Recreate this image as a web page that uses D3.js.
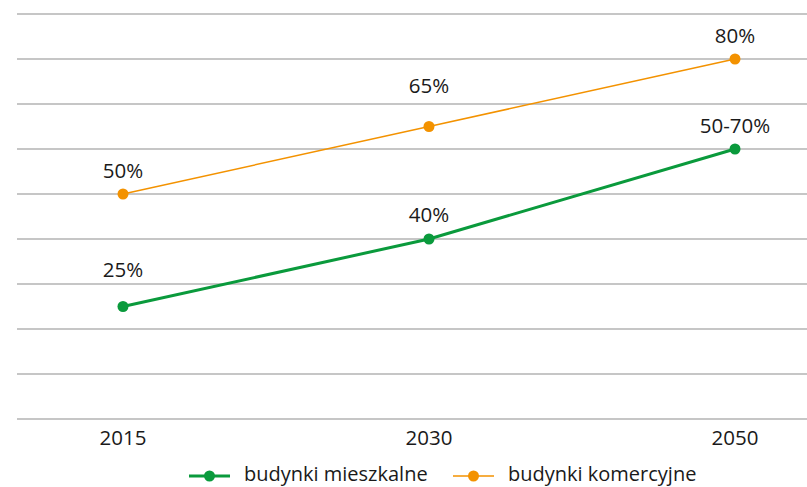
<!DOCTYPE html>
<html><head><meta charset="utf-8">
<script src="https://cdn.jsdelivr.net/npm/d3@7"></script>
<style>body{margin:0;background:#fff}svg{display:block}text{font-family:"Open Sans","Noto Sans",sans-serif;fill:#1a1a1a}</style>
</head><body><svg id="c" width="807" height="487"></svg>
<script>
const years = ["2015", "2030", "2050"];
const seriesNames = ["budynki mieszkalne", "budynki komercyjne"];
const residential = [25, 40, 60];
const commercial = [50, 65, 80];
const residentialLabels = ["25%", "40%", "50-70%"];
const commercialLabels = ["50%", "65%", "80%"];
const yTicks = [0,10,20,30,40,50,60,70,80,90];

const svg = d3.select("#c");
const x = d3.scalePoint().domain(years).range([123, 735]);
const y = d3.scaleLinear().domain([0, 90]).range([419, 14]);

svg.append("g").selectAll("line").data(yTicks).join("line")
  .attr("x1", 17).attr("x2", 807)
  .attr("y1", d => y(d)).attr("y2", d => y(d))
  .attr("stroke", "#b3b3b3").attr("stroke-width", 1.6);

svg.append("g").selectAll("text").data(years).join("text")
  .attr("x", d => x(d)).attr("y", 445).attr("text-anchor", "middle")
  .attr("font-size", 20.5).text(d => d);

const series = [
  {name: seriesNames[0], vals: residential, labels: residentialLabels, color: "#0a9a3c", w: 3, dy: [-30, -17, -16]},
  {name: seriesNames[1], vals: commercial, labels: commercialLabels, color: "#f39200", w: 1.5, dy: [-16, -34, -16]}
];
const line = d3.line().x((d,i) => x(years[i])).y(d => y(d));
series.forEach(s => {
  svg.append("path").attr("d", line(s.vals)).attr("fill", "none")
    .attr("stroke", s.color).attr("stroke-width", s.w);
  svg.append("g").selectAll("circle").data(s.vals).join("circle")
    .attr("cx", (d,i) => x(years[i])).attr("cy", d => y(d)).attr("r", 5.5).attr("fill", s.color);
  svg.append("g").selectAll("text").data(s.vals).join("text")
    .attr("x", (d,i) => x(years[i])).attr("y", (d,i) => y(d) + s.dy[i])
    .attr("text-anchor", "middle").attr("font-size", 20.5).text((d,i) => s.labels[i]);
});

const legX = [189, 453];
series.forEach((s, i) => {
  const g = svg.append("g").attr("transform", `translate(${legX[i]},476)`);
  g.append("line").attr("x1", 0).attr("x2", 41).attr("stroke", s.color).attr("stroke-width", s.w);
  g.append("circle").attr("cx", 20.5).attr("r", 5.5).attr("fill", s.color);
  g.append("text").attr("x", 55).attr("y", 5).attr("font-size", 20).text(s.name);
});
</script></body></html>
